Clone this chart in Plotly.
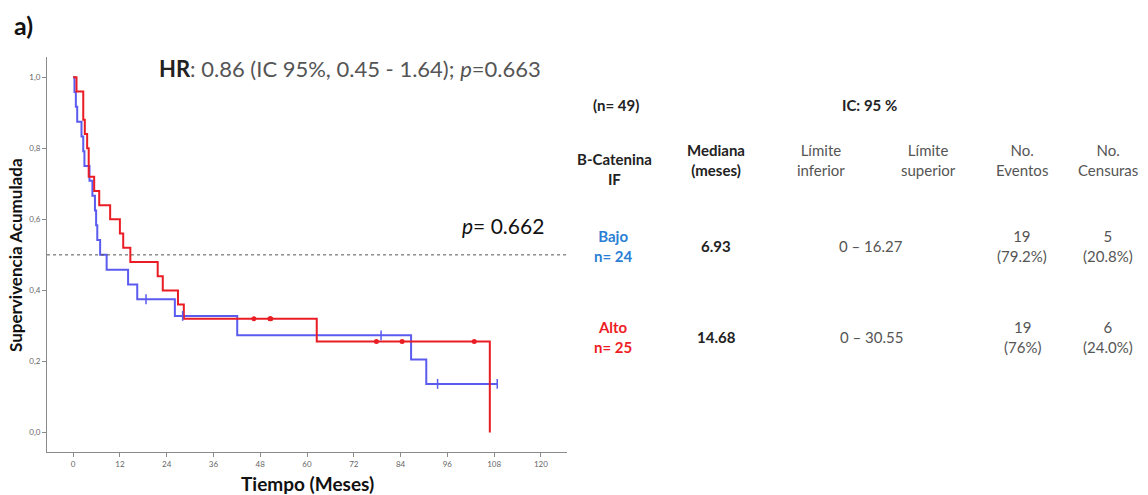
import plotly.graph_objects as go

# ---- Data ----
bajo_event_times = [0.35, 0.7, 1.05, 2.15, 2.6, 2.9, 4.2, 4.95, 5.6, 5.9, 6.2, 6.93,
                    8.6, 14.1, 16.45, 26.1, 42.1, 86.7, 90.6]
bajo_censor_times = [18.7, 28.1, 79.0, 93.5, 108.8]

alto_event_times = [0.87, 2.6, 2.6, 3.0, 3.6, 4.0, 4.0, 5.4, 6.7, 9.5, 12.0, 12.85,
                    14.68, 21.7, 23.0, 26.9, 28.4, 62.5, 106.9]
alto_censor_times = [46.4, 50.5, 50.7, 77.8, 84.4, 102.9]

x_tick_vals = [0, 12, 24, 36, 48, 60, 72, 84, 96, 108, 120]
y_tick_vals = [0.0, 0.2, 0.4, 0.6, 0.8, 1.0]
y_tick_text = ["0,0", "0,2", "0,4", "0,6", "0,8", "1,0"]

table_groups = ["Bajo<br>n= 24", "Alto<br>n= 25"]
table_medians = ["6.93", "14.68"]
table_ci = ["0 – 16.27", "0 – 30.55"]
table_events = ["19<br>(79.2%)", "19<br>(76%)"]
table_censors = ["5<br>(20.8%)", "6<br>(24.0%)"]

BLUE = "#5b5bf0"
RED = "#ea1c24"
FONT = "Lato"


def km(events, censors):
    data = sorted([(t, 1) for t in events] + [(t, 0) for t in censors])
    n = len(data)
    s = 1.0
    xs, ys = [0.0], [1.0]
    cx, cy = [], []
    i = 0
    while i < len(data):
        t = data[i][0]
        d = sum(1 for tt, e in data if tt == t and e == 1)
        c = sum(1 for tt, e in data if tt == t and e == 0)
        if d:
            s = s * (n - d) / n
            xs.append(t)
            ys.append(s)
        for _ in range(c):
            cx.append(t)
            cy.append(s)
        n -= d + c
        i += d + c
    last = data[-1][0]
    if xs[-1] < last:
        xs.append(last)
        ys.append(s)
    return xs, ys, cx, cy


fig = go.Figure()

bx, by, bcx, bcy = km(bajo_event_times, bajo_censor_times)
ax_, ay_, acx, acy = km(alto_event_times, alto_censor_times)

fig.add_trace(go.Scatter(x=bx, y=by, mode="lines", line=dict(color=BLUE, width=2, shape="hv"),
                         showlegend=False, hoverinfo="skip"))
fig.add_trace(go.Scatter(x=ax_, y=ay_, mode="lines", line=dict(color=RED, width=2, shape="hv"),
                         showlegend=False, hoverinfo="skip"))
fig.add_trace(go.Scatter(x=bcx, y=bcy, mode="markers",
                         marker=dict(symbol="line-ns", size=7, line=dict(color=BLUE, width=1.5)),
                         showlegend=False, hoverinfo="skip"))
fig.add_trace(go.Scatter(x=acx, y=acy, mode="markers",
                         marker=dict(symbol="circle", size=5, color=RED),
                         showlegend=False, hoverinfo="skip"))

fig.add_shape(type="line", xref="x domain", yref="y", x0=0, x1=1, y0=0.5, y1=0.5,
              line=dict(color="#555555", width=1, dash="dot"))

axis_common = dict(showgrid=False, zeroline=False, showline=True, linecolor="#8a8a8a",
                   linewidth=1, ticks="outside", ticklen=4, tickcolor="#8a8a8a",
                   tickfont=dict(family=FONT, size=8, color="#666666"))

fig.update_xaxes(range=[-6.7, 126.7], tickvals=x_tick_vals, **axis_common)
fig.update_yaxes(range=[-0.055, 1.057], tickvals=y_tick_vals, ticktext=y_tick_text, **axis_common)

ann = []
W, H = 1148, 495


def P(px, py, text, size=14, color="#222222", xanchor="center", yanchor="middle", **kw):
    # pixel coordinates -> paper coordinates
    l, r, t, b = 47, 581, 57, 43
    pw = W - l - r
    ph = H - t - b
    ann.append(dict(text=text, x=(px - l) / pw, y=(H - b - py) / ph, xref="paper", yref="paper",
                    showarrow=False, xanchor=xanchor, yanchor=yanchor,
                    font=dict(family=FONT, size=size, color=color), **kw))


P(12, 25, "<b>a)</b>", size=25, color="#111111", xanchor="left")
P(350, 68, "<b><span style='color:#222'>HR</span></b>: 0.86 (IC 95%, 0.45 - 1.64); <i>p</i>=0.663",
  size=22, color="#555555")
P(546, 225, "<i>p</i>= 0.662", size=21, color="#111111", xanchor="right")

P(15, 255, "<b>Supervivencia Acumulada</b>", size=17, color="#111111", textangle=-90)
P(307, 483, "<b>Tiempo (Meses)</b>", size=19, color="#111111")

# table
P(616, 105, "<b>(n= 49)</b>", size=15)
P(869, 105, "<b>IC: 95 %</b>", size=15)
P(614, 169, "<b>B-Catenina<br>IF</b>", size=15)
P(716, 160, "<b>Mediana<br>(meses)</b>", size=15)
P(821, 160, "Límite<br>inferior", size=15, color="#555555")
P(928, 160, "Límite<br>superior", size=15, color="#555555")
P(1022, 160, "No.<br>Eventos", size=15, color="#555555")
P(1108, 160, "No.<br>Censuras", size=15, color="#555555")

row_y = [246, 337]
group_colors = ["#2a7fd4", "#ee1c24"]
for i in range(2):
    P(613, row_y[i], "<b>" + table_groups[i] + "</b>", size=15, color=group_colors[i])
    P(716, row_y[i], "<b>" + table_medians[i] + "</b>", size=15)
    P(871, row_y[i], table_ci[i], size=15, color="#555555")
    P(1022, row_y[i], table_events[i], size=15, color="#555555")
    P(1108, row_y[i], table_censors[i], size=15, color="#555555")

fig.update_layout(
    width=W, height=H,
    margin=dict(l=47, r=581, t=57, b=43),
    paper_bgcolor="white", plot_bgcolor="white",
    annotations=ann,
    font=dict(family=FONT),
)

fig.write_html("out.html")
